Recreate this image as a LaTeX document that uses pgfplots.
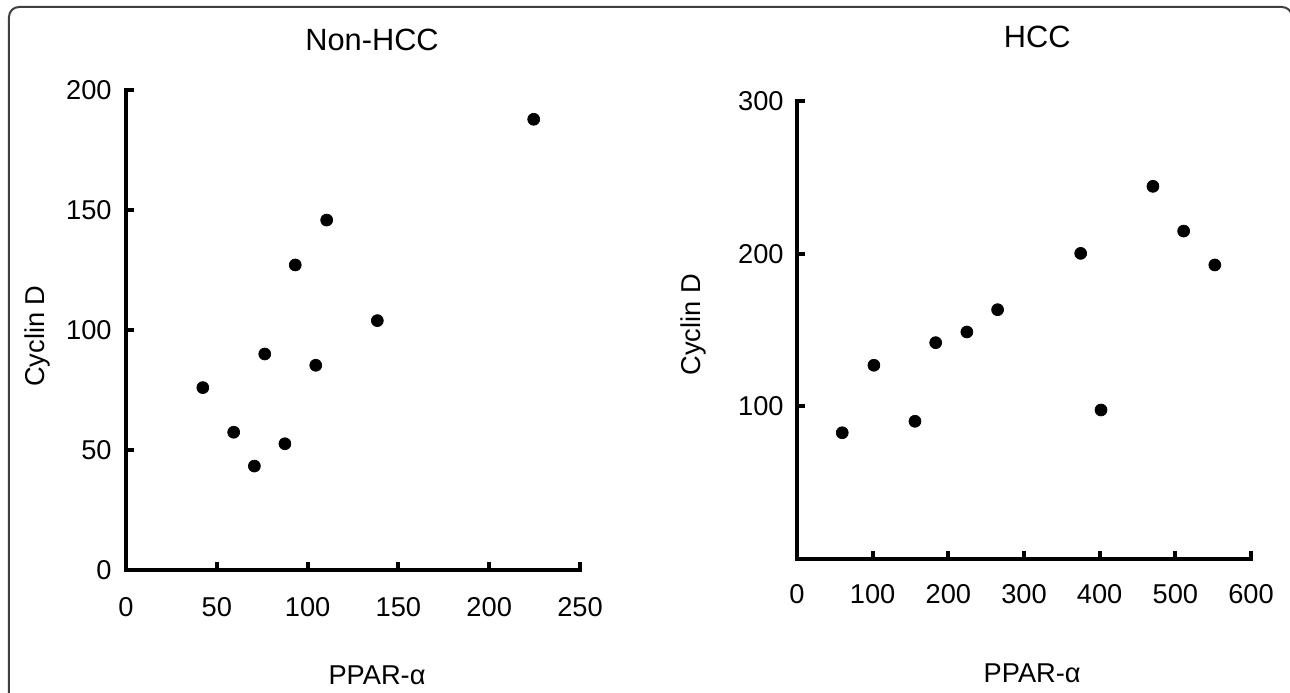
\documentclass[border=0pt]{standalone}
\usepackage{fontspec}
\setmainfont{Liberation Sans}
\usepackage{pgfplots}
\pgfplotsset{compat=1.18}

\newcommand{\tickfont}{\fontsize{15.5}{18}\selectfont}
\newcommand{\labfont}{\fontsize{15.5}{18}\selectfont}
\newcommand{\ttlfont}{\fontsize{17.5}{20}\selectfont}

\pgfplotsset{
  scatterpanel/.style={
    scale only axis,
    width=9.08cm,
    anchor=south west,
    axis x line=bottom,
    axis y line=left,
    axis line style={-, line width=0.08cm, line cap=rect},
    tick style={line width=0.08cm, black},
    tick align=inside,
    major tick length=0.15cm,
    enlargelimits=false,
    clip=false,
    /pgf/number format/assume math mode=true,
    ticklabel style={font=\tickfont, inner sep=0pt},
    every axis title/.style={anchor=center, font=\ttlfont},
    every axis x label/.style={anchor=center, font=\labfont},
    every axis y label/.style={anchor=center, rotate=90, font=\labfont},
  },
  dots/.style={only marks, mark=*, mark size=3.4pt, black, mark options={fill=black}},
}

\begin{document}
\begin{tikzpicture}
% frame (bottom edge runs off the page)
\draw[line width=0.04cm, black!75, rounded corners=0.2cm]
  (0.18cm,-1cm) -- (0.18cm,13.72cm) -- (25.84cm,13.72cm) -- (25.84cm,-1cm);

% Non-HCC
\begin{axis}[scatterpanel,
  at={(2.52cm,2.46cm)}, height=9.6cm,
  xmin=0, xmax=250, ymin=0, ymax=200,
  xtick={0,50,...,250}, ytick={0,50,...,200},
  xticklabel style={anchor=north, yshift=-0.55cm},
  yticklabel style={anchor=east, xshift=-0.28cm},
  title={Non-HCC},
  title style={at={(axis description cs:0.542,1.104)}},
  xlabel={PPAR-α},
  xlabel style={at={(axis description cs:0.553,-0.219)}},
  ylabel={Cyclin D},
  ylabel style={at={(axis description cs:-0.195,0.4875)}},
]
\addplot[dots] coordinates {
  (42.3,76.0) (59.3,57.4) (70.7,43.3) (76.4,90.0) (87.5,52.6)
  (93.2,127.1) (104.5,85.3) (110.5,145.8) (138.4,103.9) (224.5,187.8)
};
\end{axis}

% HCC
\begin{axis}[scatterpanel,
  at={(15.94cm,2.68cm)}, height=9.16cm,
  xmin=0, xmax=600, ymin=0, ymax=300,
  xtick={0,100,...,600}, ytick={100,200,300},
  xticklabel style={anchor=north, yshift=-0.5cm},
  yticklabel style={anchor=east, xshift=-0.26cm},
  title={HCC},
  title style={at={(axis description cs:0.529,1.140)}},
  xlabel={PPAR-α},
  xlabel style={at={(axis description cs:0.518,-0.249)}},
  ylabel={Cyclin D},
  ylabel style={at={(axis description cs:-0.227,0.511)}},
]
\addplot[dots] coordinates {
  (59.8,82.7) (101.6,126.9) (155.9,90.2) (183.3,141.7) (224.5,148.7)
  (265.1,163.3) (374.9,200.2) (401.8,97.6) (470.4,244.1) (511.0,214.8)
  (552.2,192.6)
};
\end{axis}

\pgfresetboundingbox
\path[use as bounding box] (0,0) rectangle (25.8cm,13.86cm);
\end{tikzpicture}
\end{document}
